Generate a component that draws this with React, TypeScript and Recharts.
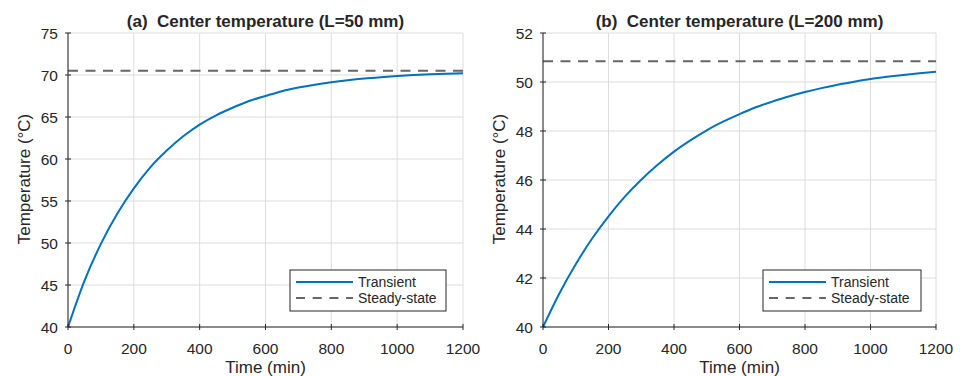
import {
  CartesianGrid,
  Line,
  LineChart,
  ReferenceLine,
  XAxis,
  YAxis,
} from "recharts";

const TIME = [
  0, 50, 100, 150, 200, 250, 300, 350, 400, 450, 500, 550, 600, 650, 700, 750,
  800, 850, 900, 950, 1000, 1050, 1100, 1150, 1200,
];

// centre temperature, L = 50 mm
const TEMP_A = [
  40.0, 45.5, 49.9, 53.5, 56.5, 59.0, 61.0, 62.7, 64.1, 65.2, 66.1, 66.9, 67.5,
  68.07, 68.5, 68.85, 69.14, 69.38, 69.58, 69.74, 69.88, 69.99, 70.08, 70.15,
  70.22,
];
const STEADY_A = 70.5;

// centre temperature, L = 200 mm
const TEMP_B = [
  40.0, 41.37, 42.56, 43.61, 44.52, 45.32, 46.01, 46.62, 47.16, 47.62, 48.03,
  48.38, 48.69, 48.97, 49.2, 49.41, 49.59, 49.75, 49.89, 50.01, 50.12, 50.21,
  50.29, 50.36, 50.42,
];
const STEADY_B = 50.85;

const X_TICKS = [0, 200, 400, 600, 800, 1000, 1200];
const Y_TICKS_A = [40, 45, 50, 55, 60, 65, 70, 75];
const Y_TICKS_B = [40, 42, 44, 46, 48, 50, 52];

const TITLE_A = "(a)  Center temperature (L=50 mm)";
const TITLE_B = "(b)  Center temperature (L=200 mm)";

const FONT = "'Liberation Sans', Arial, Helvetica, sans-serif";
const INK = "#262626";
const GRID = "#dcdcdc";
const BLUE = "#0072BD";
const DASH = "#666666";

const LeftTick = (props: any) => {
  const { x, y, payload } = props;
  return (
    <g>
      <line x1={x - 3} x2={x + 3} y1={y} y2={y} stroke={INK} />
      <text
        x={x - 10}
        y={y}
        dy="0.36em"
        textAnchor="end"
        fontSize={15.5}
        fontFamily={FONT}
        fill={INK}
      >
        {payload.value}
      </text>
    </g>
  );
};

const BottomTick = (props: any) => {
  const { x, y, payload } = props;
  return (
    <g>
      <line x1={x} x2={x} y1={y - 3} y2={y + 3} stroke={INK} />
      <text
        x={x}
        y={y + 26.5}
        textAnchor="middle"
        fontSize={15.5}
        fontFamily={FONT}
        fill={INK}
      >
        {payload.value}
      </text>
    </g>
  );
};

const HMark = (props: any) => (
  <line x1={props.x - 3} x2={props.x + 3} y1={props.y} y2={props.y} stroke={INK} />
);
const VMark = (props: any) => (
  <line x1={props.x} x2={props.x} y1={props.y - 3} y2={props.y + 3} stroke={INK} />
);

type PanelProps = {
  left: number;
  temps: number[];
  steady: number;
  yTicks: number[];
  title: string;
  margin: { top: number; right: number; bottom: number; left: number };
  legendX: number;
  legendW: number;
};

function Panel({ left, temps, steady, yTicks, title, margin, legendX, legendW }: PanelProps) {
  const rows = TIME.map((t, i) => ({ t, temp: temps[i] }));
  const plotL = margin.left + 60;
  const plotR = 480 - margin.right;
  const cx = (plotL + plotR) / 2;
  const yDomain = [yTicks[0], yTicks[yTicks.length - 1]];

  return (
    <div style={{ position: "absolute", left, top: 0, width: 480, height: 376 }}>
      <LineChart width={480} height={376} data={rows} margin={margin}>
        <CartesianGrid stroke={GRID} strokeWidth={1} />
        <XAxis
          dataKey="t"
          type="number"
          domain={[0, 1200]}
          ticks={X_TICKS}
          interval={0}
          height={40}
          tickSize={0}
          tickMargin={0}
          axisLine={{ stroke: INK }}
          tick={<BottomTick />}
        />
        <XAxis
          xAxisId="top"
          orientation="top"
          dataKey="t"
          type="number"
          domain={[0, 1200]}
          ticks={X_TICKS}
          interval={0}
          height={0}
          tickSize={0}
          tickMargin={0}
          axisLine={{ stroke: INK }}
          tick={<VMark />}
        />
        <YAxis
          type="number"
          domain={yDomain}
          ticks={yTicks}
          interval={0}
          width={60}
          tickSize={0}
          tickMargin={0}
          axisLine={{ stroke: INK }}
          tick={<LeftTick />}
        />
        <YAxis
          yAxisId="right"
          orientation="right"
          type="number"
          domain={yDomain}
          ticks={yTicks}
          interval={0}
          width={0}
          tickSize={0}
          tickMargin={0}
          axisLine={{ stroke: INK }}
          tick={<HMark />}
        />
        <ReferenceLine
          y={steady}
          stroke={DASH}
          strokeWidth={2}
          strokeDasharray="10 7.5"
        />
        <Line
          dataKey="temp"
          type="monotone"
          stroke={BLUE}
          strokeWidth={2}
          dot={false}
          isAnimationActive={false}
        />
      </LineChart>

      <svg
        width={480}
        height={376}
        style={{ position: "absolute", left: 0, top: 0, pointerEvents: "none" }}
        fontFamily={FONT}
        fill={INK}
      >
        <text
          x={cx}
          y={27.3}
          textAnchor="middle"
          fontSize={17}
          fontWeight="bold"
          style={{ whiteSpace: "pre" }}
        >
          {title}
        </text>
        <text x={cx} y={373} textAnchor="middle" fontSize={17}>
          Time (min)
        </text>
        <text
          transform={`translate(${plotL - 37.8}, 179) rotate(-90)`}
          textAnchor="middle"
          fontSize={17}
        >
          Temperature (°C)
        </text>
        <g>
          <rect x={legendX} y={270} width={legendW} height={41} fill="#fff" stroke={INK} />
          <line x1={legendX + 6} x2={legendX + 63} y1={282} y2={282} stroke={BLUE} strokeWidth={2} />
          <line
            x1={legendX + 6}
            x2={legendX + 63}
            y1={298}
            y2={298}
            stroke={DASH}
            strokeWidth={2}
            strokeDasharray="9 7.7"
          />
          <text x={legendX + 68} y={287} fontSize={14}>
            Transient
          </text>
          <text x={legendX + 68} y={303} fontSize={14}>
            Steady-state
          </text>
        </g>
      </svg>
    </div>
  );
}

export default function App() {
  return (
    <div
      style={{
        position: "absolute",
        left: 0,
        top: 0,
        width: 961,
        height: 376,
        background: "#fff",
        overflow: "hidden",
      }}
    >
      <Panel
        left={0}
        temps={TEMP_A}
        steady={STEADY_A}
        yTicks={Y_TICKS_A}
        title={TITLE_A}
        margin={{ top: 33, right: 17, bottom: 9, left: 8 }}
        legendX={290}
        legendW={156}
      />
      <Panel
        left={480}
        temps={TEMP_B}
        steady={STEADY_B}
        yTicks={Y_TICKS_B}
        title={TITLE_B}
        margin={{ top: 33, right: 24, bottom: 9, left: 3 }}
        legendX={283}
        legendW={158}
      />
    </div>
  );
}
